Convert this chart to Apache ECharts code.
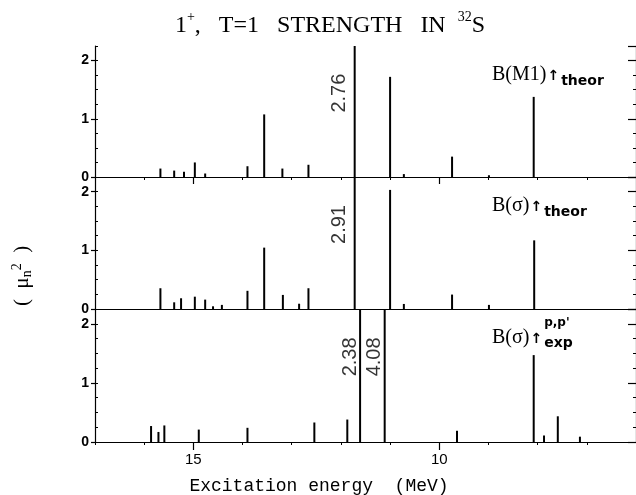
<!DOCTYPE html>
<html>
<head>
<meta charset="utf-8">
<script src="https://cdn.jsdelivr.net/npm/echarts@6/dist/echarts.min.js"></script>
<style>
  html, body { margin: 0; padding: 0; background: #fff; }
  #chart { width: 636px; height: 495px; }
</style>
</head>
<body>
<div id="chart"></div>
<script>
// ---------- data ----------
// Excitation energies (MeV) and strengths (mu_n^2)
const energiesM1 = [15.67, 15.39, 15.19, 14.97, 14.76, 13.90, 13.56, 13.19, 12.66, 11.72, 11.00, 10.72, 9.74, 8.99, 8.08];
const strengthM1 = [0.145, 0.11, 0.09, 0.25, 0.06, 0.185, 1.075, 0.145, 0.21, 2.76, 1.72, 0.05, 0.35, 0.03, 1.376];

const energiesSigmaTheor = [15.67, 15.39, 15.25, 14.97, 14.76, 14.60, 14.42, 13.90, 13.56, 13.18, 12.85, 12.66, 11.72, 11.00, 10.72, 9.74, 8.99, 8.07];
const strengthSigmaTheor = [0.354, 0.114, 0.183, 0.21, 0.16, 0.046, 0.07, 0.31, 1.046, 0.24, 0.09, 0.354, 2.91, 2.03, 0.086, 0.246, 0.07, 1.17];

const energiesSigmaExp = [15.86, 15.71, 15.59, 14.89, 13.90, 12.54, 11.87, 11.61, 11.11, 9.64, 8.08, 7.87, 7.59, 7.14];
const strengthSigmaExp = [0.27, 0.17, 0.28, 0.21, 0.24, 0.33, 0.38, 2.38, 4.08, 0.19, 1.47, 0.11, 0.435, 0.09];

const xTickLabels = [15, 10];
const yTickLabels = [0, 1, 2];

// ---------- layout / style ----------
const X_MIN = 6, X_MAX = 17, Y_MAX = 2.25, LABEL_Y = 1.44;
const grids = [
  { left: 95, top: 46, width: 542, height: 131 },
  { left: 95, top: 177, width: 542, height: 132 },
  { left: 95, top: 309, width: 542, height: 133 }
];
const labelGap = [5, 5, 0];

const baseX = { type: 'value', min: X_MIN, max: X_MAX, inverse: true, splitLine: { show: false } };
function xAx(o) { return Object.assign({}, baseX, o); }
const noLabel = { show: false };
const blackLine = { show: true, lineStyle: { color: '#000', width: 1.2 } };

const xAxes = [
  // grid 0
  xAx({ gridIndex: 0, position: 'bottom', axisLine: blackLine, axisTick: { show: false }, axisLabel: noLabel }),
  xAx({ gridIndex: 0, position: 'top', axisLine: blackLine,
        axisTick: { show: true, inside: true, length: 7, customValues: xTickLabels, lineStyle: { color: '#000', width: 1.2 } },
        axisLabel: { show: false, customValues: xTickLabels } }),
  xAx({ gridIndex: 0, position: 'top', interval: 1, axisLine: { show: false },
        axisTick: { show: true, inside: true, length: 3, lineStyle: { color: '#000' } }, axisLabel: noLabel }),
  // grid 1
  xAx({ gridIndex: 1, position: 'bottom', axisLine: blackLine, axisTick: { show: false }, axisLabel: noLabel }),
  // grid 2
  xAx({ gridIndex: 2, position: 'bottom', axisLine: blackLine,
        axisTick: { show: true, inside: false, length: 8, customValues: xTickLabels, lineStyle: { color: '#000', width: 1.2 } },
        axisLabel: { show: true, customValues: xTickLabels, margin: 10, color: '#000', fontSize: 15, fontFamily: 'Liberation Sans' } }),
  xAx({ gridIndex: 2, position: 'bottom', interval: 1, axisLine: { show: false },
        axisTick: { show: true, inside: false, length: 3, lineStyle: { color: '#000' } }, axisLabel: noLabel })
];
const mainXIndex = [0, 3, 4];

const yAxes = [];
grids.forEach((g, i) => {
  yAxes.push({
    type: 'value', gridIndex: i, position: 'left', min: 0, max: Y_MAX, interval: 1,
    splitLine: { show: false }, axisLine: blackLine,
    axisTick: { show: true, inside: false, length: 4, lineStyle: { color: '#000', width: 1.2 } },
    axisLabel: { show: true, showMaxLabel: false, margin: 6, color: '#000', fontSize: 14, fontWeight: 'bold', fontFamily: 'Liberation Sans',
                 formatter: v => (yTickLabels.indexOf(v) >= 0 ? String(v) : '') }
  });
  yAxes.push({
    type: 'value', gridIndex: i, position: 'left', min: 0, max: Y_MAX, interval: 0.25,
    splitLine: { show: false }, axisLine: { show: false },
    axisTick: { show: true, inside: true, length: 3, lineStyle: { color: '#000' } }, axisLabel: noLabel
  });
  yAxes.push({
    type: 'value', gridIndex: i, position: 'right', min: 0, max: Y_MAX, interval: 1,
    splitLine: { show: false }, axisLine: blackLine,
    axisTick: { show: true, inside: true, length: 8, lineStyle: { color: '#000', width: 1.2 } },
    minorTick: { show: true, splitNumber: 4, length: 3, lineStyle: { color: '#000' } },
    axisLabel: noLabel
  });
});

const panels = [
  { e: energiesM1, v: strengthM1 },
  { e: energiesSigmaTheor, v: strengthSigmaTheor },
  { e: energiesSigmaExp, v: strengthSigmaExp }
];

const series = [];
panels.forEach((p, i) => {
  series.push({
    type: 'bar', xAxisIndex: mainXIndex[i], yAxisIndex: i * 3, clip: true,
    barWidth: 2, itemStyle: { color: '#000' }, silent: true, animation: false,
    data: p.e.map((e, k) => [e, p.v[k]])
  });
  const off = [];
  p.e.forEach((e, k) => { if (p.v[k] > Y_MAX) off.push([e, LABEL_Y, p.v[k]]); });
  series.push({
    type: 'scatter', xAxisIndex: mainXIndex[i], yAxisIndex: i * 3, symbolSize: 0, animation: false, silent: true,
    data: off,
    label: {
      show: true, position: 'inside', rotate: 90, align: 'center', verticalAlign: 'bottom',
      padding: [0, 0, labelGap[i], 0],
      color: '#000', fontSize: 20, fontFamily: 'Liberation Sans',
      formatter: prm => prm.value[2].toFixed(2)
    }
  });
});

// ---------- annotation text ----------
const serif = 'Liberation Serif';
const measureCtx = document.createElement('canvas').getContext('2d');
function textWidth(font, s) { measureCtx.font = font; return measureCtx.measureText(s).width; }

const MAIN_FONT = '20px "Liberation Serif"';
const ARROW_FONT = 'bold 14px "DejaVu Sans"';
const SUB_FONT = 'bold 14px "DejaVu Sans"';
const SUP_FONT = 'bold 12px "DejaVu Sans"';

function panelLabel(i, mainText, subText, subDy, supText) {
  const top = grids[i].top;
  const x0 = 492;
  const ax = x0 + textWidth(MAIN_FONT, mainText) + 1;
  const sx = ax + textWidth(ARROW_FONT, '↑') + 2;
  const els = [
    { type: 'text', x: x0, y: top + 29, style: { text: mainText, font: MAIN_FONT, fill: '#000', verticalAlign: 'middle', align: 'left' } },
    { type: 'text', x: ax, y: top + 30, style: { text: '↑', font: ARROW_FONT, fill: '#000', verticalAlign: 'middle', align: 'left' } },
    { type: 'text', x: sx, y: top + subDy, style: { text: subText, font: SUB_FONT, fill: '#000', verticalAlign: 'middle', align: 'left' } }
  ];
  if (supText) {
    els.push({ type: 'text', x: sx, y: top + 14, style: { text: supText, font: SUP_FONT, fill: '#000', verticalAlign: 'middle', align: 'left' } });
  }
  return els;
}

const graphic = [
  { type: 'text', x: 330, y: 24,
    style: {
      text: '{m|1}{s|+}{m|,   T=1   STRENGTH   IN  }{s|32}{m|S}',
      rich: {
        m: { fontFamily: serif, fontSize: 24, lineHeight: 27, verticalAlign: 'bottom' },
        s: { fontFamily: serif, fontSize: 14, lineHeight: 14, verticalAlign: 'top' }
      },
      fill: '#000', align: 'center', verticalAlign: 'middle'
    } },
  { type: 'text', x: 22, y: 276, rotation: Math.PI / 2,
    style: {
      text: '{m|(  μ}{b|n}{t|2}{m|  )}',
      rich: {
        m: { fontFamily: serif, fontSize: 21, lineHeight: 24, verticalAlign: 'middle' },
        b: { fontFamily: serif, fontSize: 14, lineHeight: 14, verticalAlign: 'bottom' },
        t: { fontFamily: serif, fontSize: 14, lineHeight: 14, verticalAlign: 'top' }
      },
      fill: '#000', align: 'center', verticalAlign: 'middle'
    } },
  { type: 'text', x: 319, y: 486,
    style: { text: 'Excitation energy  (MeV)', font: '18px "Liberation Mono"', fill: '#000', align: 'center', verticalAlign: 'middle' } }
].concat(
  panelLabel(0, 'B(M1)', 'theor', 35),
  panelLabel(1, 'B(σ)', 'theor', 35),
  panelLabel(2, 'B(σ)', 'exp', 34, "p,p'")
);

const chart = echarts.init(document.getElementById('chart'), null, { renderer: 'canvas' });
chart.setOption({
  animation: false,
  backgroundColor: '#fff',
  grid: grids.map(g => Object.assign({ containLabel: false, show: false }, g)),
  xAxis: xAxes,
  yAxis: yAxes,
  series: series,
  graphic: graphic
});
</script>
</body>
</html>
